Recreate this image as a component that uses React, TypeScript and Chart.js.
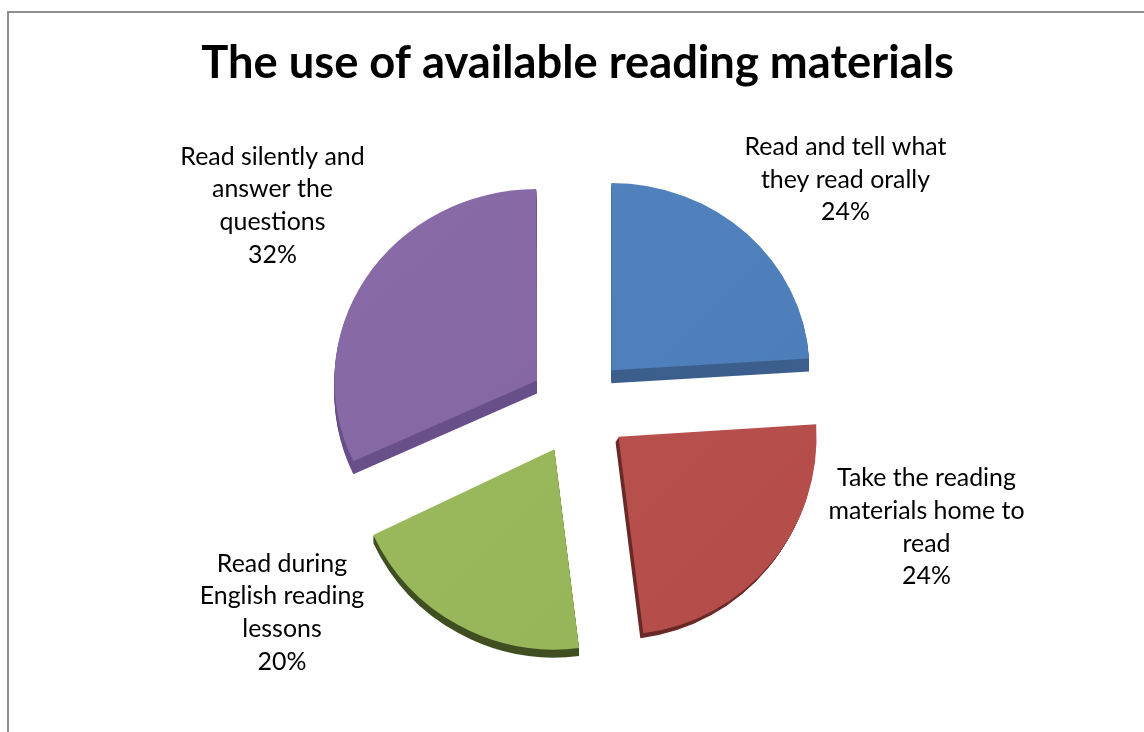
import React, { useEffect, useRef } from "react";
import { Chart, registerables } from "chart.js";

Chart.register(...registerables);

const titleText = "The use of available reading materials";
const categories = [
  ["Read and tell what", "they read orally"],
  ["Take the reading", "materials home to", "read"],
  ["Read during", "English reading", "lessons"],
  ["Read silently and", "answer the", "questions"],
];
const values = [24, 24, 20, 32];
const percentLabels = ["24%", "24%", "20%", "32%"];

const topColors = ["#5484bf", "#bb5451", "#9cbb5e", "#8a6ca8"];
const bottomColors = ["#4a7cb7", "#b24b48", "#95b357", "#8264a0"];
const sideColors = ["#3c5f8d", "#6a2a28", "#404f22", "#69508a"];
const sideShift = [[0, 13], [-3, 5], [0, 8], [0, 13]];
const tilt = [0.945, 1, 1, 0.945];
const nudge = [[1, -2], [4, -1], [0, 0], [0, -1]];
const labelOffset = [[268, -227.5], [349, 120], [-295.5, 205.5], [-305, -201.5]];

const OFFSET = 192;
const FONT = "Lato, Carlito, sans-serif";

const slicePlugin = {
  id: "slices",
  beforeDatasetDraw(chart: any) {
    const { ctx } = chart;
    const arcs = chart.getDatasetMeta(0).data;
    arcs.forEach((arc: any, i: number) => {
      const mid = (arc.startAngle + arc.endAngle) / 2;
      const ax = arc.x + Math.cos(mid) * (OFFSET / 4);
      const ay = arc.y + Math.sin(mid) * (OFFSET / 4);
      const r = arc.outerRadius + OFFSET / 4;
      const drawWith = (fill: any) => {
        const clone = Object.create(arc);
        clone.options = { ...arc.options, backgroundColor: fill, borderWidth: 0 };
        ctx.fillStyle = fill;
        clone.draw(ctx);
      };
      const shape = (dx: number, dy: number, fill: any) => {
        ctx.save();
        ctx.translate(ax + dx + nudge[i][0], ay + dy + nudge[i][1]);
        ctx.scale(1, tilt[i]);
        ctx.translate(-ax, -ay);
        drawWith(fill);
        ctx.restore();
      };
      const [sx, sy] = sideShift[i];
      for (let t = sy; t >= 1; t--) shape((sx * t) / sy, t, sideColors[i]);
      const g = ctx.createLinearGradient(ax - r, ay - r, ax + r, ay + r);
      g.addColorStop(0, topColors[i]);
      g.addColorStop(1, bottomColors[i]);
      shape(0, 0, g);
    });
    return false;
  },
  afterDraw(chart: any) {
    const { ctx } = chart;
    const arcs = chart.getDatasetMeta(0).data;
    ctx.save();
    ctx.font = `24.9px ${FONT}`;
    ctx.fillStyle = "#000";
    ctx.textAlign = "center";
    ctx.textBaseline = "middle";
    const lh = 32.7;
    arcs.forEach((arc: any, i: number) => {
      const lines = [...categories[i], percentLabels[i]];
      const cx = arc.x + labelOffset[i][0];
      const cy = arc.y + labelOffset[i][1];
      lines.forEach((line, k) => {
        ctx.fillText(line, cx, cy + (k - (lines.length - 1) / 2) * lh);
      });
    });
    ctx.restore();
  },
};

export default function App() {
  const ref = useRef<HTMLCanvasElement>(null);
  useEffect(() => {
    if (!ref.current) return;
    const chart = new Chart(ref.current, {
      type: "pie",
      data: {
        labels: categories.map((c) => c.join(" ")),
        datasets: [
          {
            data: values,
            backgroundColor: topColors,
            borderWidth: 0,
            offset: OFFSET,
            radius: 198,
          } as any,
        ],
      },
      options: {
        responsive: false,
        animation: false,
        devicePixelRatio: 1,
        layout: { padding: { left: 11, right: 0, top: 0, bottom: 18 } },
        plugins: {
          legend: { display: false },
          tooltip: { enabled: false },
          title: {
            display: true,
            text: titleText,
            color: "#000",
            font: { family: FONT, size: 45.3, weight: "bold" },
            padding: { top: 36, bottom: 10 },
          },
        },
      },
      plugins: [slicePlugin],
    } as any);
    return () => chart.destroy();
  }, []);
  return (
    <div style={{ position: "fixed", left: 0, top: 0, width: 1144, height: 732, background: "#fff", overflow: "hidden" }}>
      <canvas ref={ref} width={1144} height={732} style={{ position: "absolute", left: 0, top: 0, display: "block" }} />
      <div style={{ position: "absolute", left: 7, top: 11, right: 0, bottom: 0, borderTop: "2px solid #8e8e8e", borderLeft: "2px solid #8e8e8e" }} />
    </div>
  );
}
